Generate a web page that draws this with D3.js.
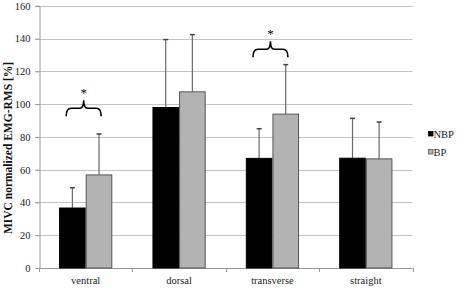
<!DOCTYPE html>
<html>
<head>
<meta charset="utf-8">
<script src="https://cdn.jsdelivr.net/npm/d3@7"></script>
<style>
  body { margin: 0; background: #fff; }
  svg { display: block; font-family: "Liberation Serif", "Times New Roman", serif; }
</style>
</head>
<body>
<div id="chart"></div>
<script>
// データ
const categories = ['ventral', 'dorsal', 'transverse', 'straight'];
const seriesNames = ['NBP', 'BP'];
const nbpValues = [36.6, 97.9, 66.9, 67.0];
const nbpErrors = [12.4, 41.5, 18.1, 24.3];
const bpValues = [56.8, 107.5, 93.9, 66.6];
const bpErrors = [25.0, 34.9, 30.2, 22.5];
const yTicks = [0, 20, 40, 60, 80, 100, 120, 140, 160];
const bracketCategories = ['ventral', 'transverse'];
const bracketValues = [97.5, 133.5];

const width = 459, height = 290;
const plot = { left: 39, right: 412.5, top: 5.8, bottom: 268 };
const colors = { NBP: '#000000', BP: '#b3b3b3' };
const fontFamily = '"Liberation Serif", "Times New Roman", serif';

const svg = d3.select('#chart').append('svg')
    .attr('width', width)
    .attr('height', height);

const x0 = d3.scaleBand()
    .domain(categories)
    .range([plot.left, plot.right])
    .paddingInner(0.43)
    .paddingOuter(0.215);

const x1 = d3.scaleBand()
    .domain(seriesNames)
    .range([0, x0.bandwidth()]);

const y = d3.scaleLinear()
    .domain([0, 160])
    .range([plot.bottom, plot.top]);

// グリッド線
svg.append('g')
    .selectAll('line')
    .data(yTicks.filter(d => d > 0))
    .join('line')
    .attr('x1', plot.left - 4)
    .attr('x2', plot.right)
    .attr('y1', d => Math.round(y(d)) + 0.5)
    .attr('y2', d => Math.round(y(d)) + 0.5)
    .attr('stroke', '#c4c4c4')
    .attr('stroke-width', 1);

// Y軸
const yAxis = svg.append('g')
    .attr('transform', `translate(${plot.left + 0.5},0)`)
    .call(d3.axisLeft(y).tickValues(yTicks).tickSize(4).tickPadding(5))
    .attr('font-family', fontFamily);
yAxis.select('.domain').attr('stroke', '#9a9a9a');
yAxis.selectAll('.tick line').attr('stroke', '#9a9a9a');
yAxis.selectAll('.tick text')
    .attr('fill', '#222')
    .style('font-size', '10.5px');

// X軸
const boundaries = [plot.left].concat(categories.map(c => x0(c) + x0.bandwidth() + x0.step() * 0.215));
svg.append('line')
    .attr('x1', plot.left).attr('x2', plot.right)
    .attr('y1', plot.bottom + 0.5).attr('y2', plot.bottom + 0.5)
    .attr('stroke', '#9a9a9a');
svg.append('g')
    .selectAll('line')
    .data(boundaries)
    .join('line')
    .attr('x1', d => Math.round(d) + 0.5)
    .attr('x2', d => Math.round(d) + 0.5)
    .attr('y1', plot.bottom)
    .attr('y2', plot.bottom + 4)
    .attr('stroke', '#9a9a9a');
svg.append('g')
    .selectAll('text')
    .data(categories)
    .join('text')
    .attr('x', d => x0(d) + x0.bandwidth() / 2)
    .attr('y', 284)
    .attr('text-anchor', 'middle')
    .attr('fill', '#222')
    .style('font-size', '10.5px')
    .text(d => d);

// 軸ラベル
svg.append('text')
    .attr('transform', `translate(12,148) rotate(-90)`)
    .attr('text-anchor', 'middle')
    .attr('fill', '#111')
    .style('font-size', '11.5px')
    .style('font-weight', 'bold')
    .text('MIVC normalized EMG-RMS [%]');

// 棒と誤差線
const rows = categories.map((c, i) => ({
    category: c,
    items: [
        { key: 'NBP', value: nbpValues[i], err: nbpErrors[i] },
        { key: 'BP', value: bpValues[i], err: bpErrors[i] }
    ]
}));

const groups = svg.append('g')
    .selectAll('g')
    .data(rows)
    .join('g')
    .attr('transform', d => `translate(${x0(d.category)},0)`);

groups.selectAll('line.err')
    .data(d => d.items)
    .join('line')
    .attr('class', 'err')
    .attr('x1', d => x1(d.key) + x1.bandwidth() / 2)
    .attr('x2', d => x1(d.key) + x1.bandwidth() / 2)
    .attr('y1', d => y(d.value))
    .attr('y2', d => y(d.value + d.err))
    .attr('stroke', '#6a6a6a')
    .attr('stroke-width', 1.2);

groups.selectAll('line.cap')
    .data(d => d.items)
    .join('line')
    .attr('class', 'cap')
    .attr('x1', d => x1(d.key) + x1.bandwidth() / 2 - 2.5)
    .attr('x2', d => x1(d.key) + x1.bandwidth() / 2 + 2.5)
    .attr('y1', d => y(d.value + d.err))
    .attr('y2', d => y(d.value + d.err))
    .attr('stroke', '#444')
    .attr('stroke-width', 1.5);

groups.selectAll('rect')
    .data(d => d.items)
    .join('rect')
    .attr('x', d => x1(d.key) + 0.5)
    .attr('y', d => y(d.value))
    .attr('width', x1.bandwidth() - 1)
    .attr('height', d => y(0) - y(d.value))
    .attr('fill', d => colors[d.key])
    .attr('stroke', d => d.key === 'NBP' ? '#000' : '#555')
    .attr('stroke-width', 1);

// 有意差の括弧
bracketCategories.forEach((c, i) => {
    const xc = x0(c) + x0.bandwidth() / 2 - 2;
    const xa = xc - 17.5, xb = xc + 17.5;
    const yt = y(bracketValues[i]);
    const path = `M${xa},${yt + 8} Q${xa},${yt} ${xa + 5},${yt} L${xc - 4},${yt} Q${xc},${yt} ${xc},${yt - 8}` +
        ` Q${xc},${yt} ${xc + 4},${yt} L${xb - 5},${yt} Q${xb},${yt} ${xb},${yt + 8}`;
    svg.append('path')
        .attr('d', path)
        .attr('fill', 'none')
        .attr('stroke', '#000')
        .attr('stroke-width', 1.6);
    svg.append('text')
        .attr('x', xc)
        .attr('y', yt - 11)
        .attr('text-anchor', 'middle')
        .attr('fill', '#000')
        .style('font-size', '13px')
        .text('*');
});

// 凡例
const legend = svg.append('g')
    .attr('transform', 'translate(428,134)');
seriesNames.forEach((name, i) => {
    const g = legend.append('g').attr('transform', `translate(0,${i * 18})`);
    g.append('rect')
        .attr('x', 0.5).attr('y', -2.5)
        .attr('width', 4.5).attr('height', 4.5)
        .attr('fill', colors[name])
        .attr('stroke', name === 'NBP' ? '#000' : '#555')
        .attr('stroke-width', 0.8);
    g.append('text')
        .attr('x', 5.5)
        .attr('y', 4)
        .attr('fill', '#222')
        .style('font-size', '10.5px')
        .text(name);
});
</script>
</body>
</html>
